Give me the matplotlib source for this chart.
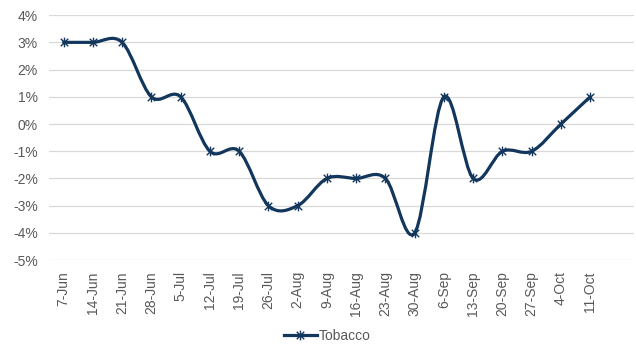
import numpy as np
import matplotlib.pyplot as plt
from matplotlib.path import Path
from matplotlib.patches import PathPatch
from matplotlib.ticker import FuncFormatter

plt.rcParams['font.family'] = ['Liberation Sans', 'DejaVu Sans']

# Data
weeks = ['7-Jun', '14-Jun', '21-Jun', '28-Jun', '5-Jul', '12-Jul', '19-Jul', '26-Jul',
         '2-Aug', '9-Aug', '16-Aug', '23-Aug', '30-Aug', '6-Sep', '13-Sep', '20-Sep',
         '27-Sep', '4-Oct', '11-Oct']
tobacco = [3, 3, 3, 1, 1, -1, -1, -3, -3, -2, -2, -2, -4, 1, -2, -1, -1, 0, 1]

navy = '#12365C'
grey = '#595959'

x = np.arange(len(weeks))
y = np.array(tobacco, dtype=float)

fig = plt.figure(figsize=(6.36, 3.52), dpi=100)
ax = fig.add_axes([0.077, 0.261, 0.920, 0.696])

# smoothed line like Excel (cubic Bezier segments through the points)
pts = np.column_stack([x, y])
verts = [pts[0]]
codes = [Path.MOVETO]
n = len(pts)
for i in range(n - 1):
    p0 = pts[i - 1] if i > 0 else pts[i]
    p1 = pts[i]
    p2 = pts[i + 1]
    p3 = pts[i + 2] if i + 2 < n else pts[i + 1]
    c1 = p1 + (p2 - p0) / 6
    c2 = p2 - (p3 - p1) / 6
    verts += [c1, c2, p2]
    codes += [Path.CURVE4] * 3
ax.add_patch(PathPatch(Path(verts, codes), facecolor='none', edgecolor=navy,
                       lw=2.3, zorder=3, capstyle='round', joinstyle='round'))

star = Path([(-1, -1), (1, 1), (-1, 1), (1, -1), (0, -1.3), (0, 1.3)],
            [Path.MOVETO, Path.LINETO, Path.MOVETO, Path.LINETO, Path.MOVETO, Path.LINETO])
ax.plot(x, y, linestyle='none', marker=star, markersize=7, markeredgewidth=1.0,
        color=navy, zorder=4)
# legend proxy
ax.plot([], [], color=navy, lw=2.3, marker=star, markersize=7, markeredgewidth=1.0,
        label='Tobacco')

# one empty category slot at the right end, as in the original
ax.set_xlim(-0.5, len(weeks) + 0.5)
ax.set_ylim(-5, 4)
ax.set_yticks(np.arange(-5, 5, 1))
ax.yaxis.set_major_formatter(FuncFormatter(lambda v, p: f'{v:.0f}%'))
ax.set_xticks(x)
ax.set_xticklabels(weeks, rotation=90)
ax.grid(axis='y', color='#D9D9D9', lw=0.9)
ax.set_axisbelow(True)
for s in ax.spines.values():
    s.set_visible(False)
ax.tick_params(length=0, labelsize=10, colors=grey, pad=8)

fig.legend(loc='center', bbox_to_anchor=(0.514, 0.045), frameon=False, fontsize=10,
           labelcolor=grey, handlelength=2.4, handletextpad=0.1)

fig.savefig('out.png', dpi=100)
